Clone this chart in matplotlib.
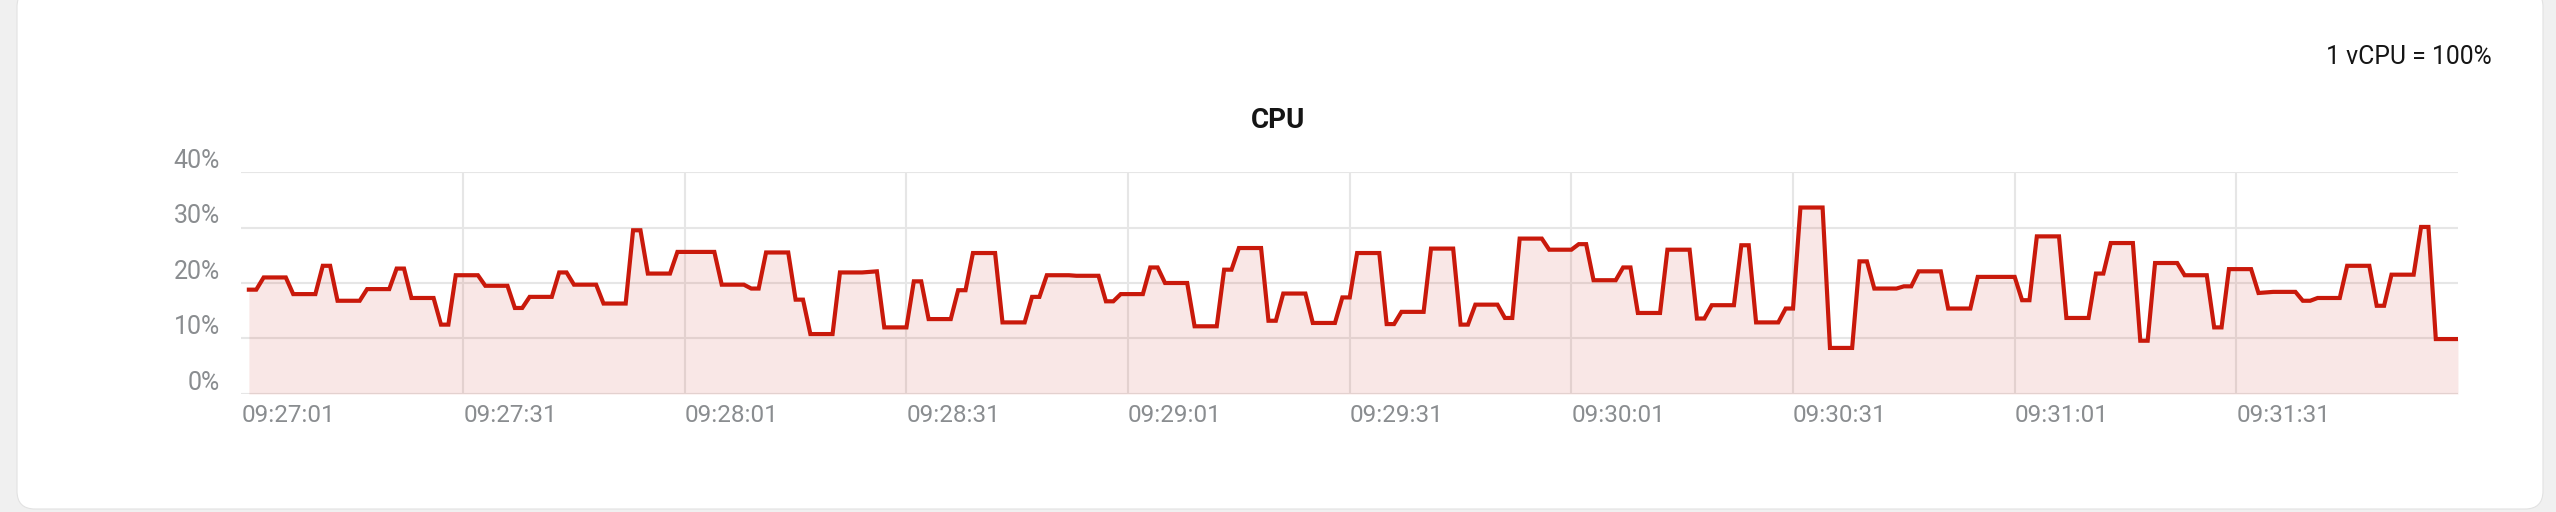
import numpy as np
import matplotlib
matplotlib.use("Agg")
import matplotlib.pyplot as plt
from matplotlib.patches import FancyBboxPatch

plt.rcParams['font.family'] = ['Roboto', 'DejaVu Sans']

# CPU usage (%), one sample per second starting 09:27:02
cpu_pct = [
    18.8, 18.8, 21.0, 21.0, 21.0, 21.0, 18.0, 18.0, 18.0, 18.0,
    23.1, 23.1, 16.8, 16.8, 16.8, 16.8, 18.9, 18.9, 18.9, 18.9,
    22.6, 22.6, 17.3, 17.3, 17.3, 17.3, 12.5, 12.5, 21.4, 21.4,
    21.4, 21.4, 19.5, 19.5, 19.5, 19.5, 15.5, 15.5, 17.5, 17.5,
    17.5, 17.5, 21.9, 21.9, 19.7, 19.7, 19.7, 19.7, 16.3, 16.3,
    16.3, 16.3, 29.5, 29.5, 21.7, 21.7, 21.7, 21.7, 25.6, 25.6,
    25.6, 25.6, 25.6, 25.6, 19.7, 19.7, 19.7, 19.7, 19.0, 19.0,
    25.5, 25.5, 25.5, 25.5, 17.0, 17.0, 10.8, 10.8, 10.8, 10.8,
    21.9, 21.9, 21.9, 21.9, 22.0, 22.1, 12.0, 12.0, 12.0, 12.0,
    20.3, 20.3, 13.5, 13.5, 13.5, 13.5, 18.7, 18.7, 25.4, 25.4,
    25.4, 25.4, 12.9, 12.9, 12.9, 12.9, 17.5, 17.5, 21.4, 21.4,
    21.4, 21.4, 21.3, 21.3, 21.3, 21.3, 16.7, 16.7, 18.0, 18.0,
    18.0, 18.0, 22.8, 22.8, 20.0, 20.0, 20.0, 20.0, 12.2, 12.2,
    12.2, 12.2, 22.4, 22.4, 26.3, 26.3, 26.3, 26.3, 13.2, 13.2,
    18.1, 18.1, 18.1, 18.1, 12.8, 12.8, 12.8, 12.8, 17.4, 17.4,
    25.4, 25.4, 25.4, 25.4, 12.6, 12.6, 14.8, 14.8, 14.8, 14.8,
    26.2, 26.2, 26.2, 26.2, 12.5, 12.5, 16.1, 16.1, 16.1, 16.1,
    13.7, 13.7, 28.0, 28.0, 28.0, 28.0, 26.0, 26.0, 26.0, 26.0,
    27.0, 27.0, 20.5, 20.5, 20.5, 20.5, 22.8, 22.8, 14.6, 14.6,
    14.6, 14.6, 26.0, 26.0, 26.0, 26.0, 13.6, 13.6, 16.0, 16.0,
    16.0, 16.0, 26.8, 26.8, 12.9, 12.9, 12.9, 12.9, 15.4, 15.4,
    33.6, 33.6, 33.6, 33.6, 8.3, 8.3, 8.3, 8.3, 23.9, 23.9,
    19.0, 19.0, 19.0, 19.0, 19.4, 19.4, 22.1, 22.1, 22.1, 22.1,
    15.4, 15.4, 15.4, 15.4, 21.1, 21.1, 21.1, 21.1, 21.1, 21.1,
    16.9, 16.9, 28.4, 28.4, 28.4, 28.4, 13.7, 13.7, 13.7, 13.7,
    21.7, 21.7, 27.2, 27.2, 27.2, 27.2, 9.6, 9.6, 23.6, 23.6,
    23.6, 23.6, 21.4, 21.4, 21.4, 21.4, 12.0, 12.0, 22.5, 22.5,
    22.5, 22.5, 18.2, 18.3, 18.4, 18.4, 18.4, 18.4, 16.8, 16.8,
    17.3, 17.3, 17.3, 17.3, 23.1, 23.1, 23.1, 23.1, 15.9, 15.9,
    21.5, 21.5, 21.5, 21.5, 30.1, 30.1, 9.9, 9.9, 9.9, 9.9,
]
# seconds after 09:27:01
seconds = np.arange(1, len(cpu_pct) + 1)

x_ticks = [0, 30, 60, 90, 120, 150, 180, 210, 240, 270]
x_labels = ["09:27:01", "09:27:31", "09:28:01", "09:28:31", "09:29:01",
            "09:29:31", "09:30:01", "09:30:31", "09:31:01", "09:31:31"]
y_ticks = [0, 10, 20, 30, 40]
y_labels = ["0%", "10%", "20%", "30%", "40%"]

RED = "#c9190b"
GRID = "#e6e6e6"
LABEL = "#8a8d90"

fig = plt.figure(figsize=(25.56, 5.12), dpi=100, facecolor="#f0f0f0")

# white card behind everything
card = FancyBboxPatch((0.17, 0.03), 25.26, 5.2,
                      boxstyle="round,pad=0,rounding_size=0.18",
                      transform=fig.dpi_scale_trans, facecolor="white",
                      edgecolor="#e2e2e2", linewidth=0.8, zorder=-10)
fig.patches.append(card)

ax = fig.add_axes([0.09448, 0.23047, 0.86717, 0.43359], zorder=5)
ax.set_facecolor("none")
ax.set_xlim(0, 300)
ax.set_ylim(0, 40)

for y in y_ticks:
    ax.axhline(y, color=GRID, lw=1.5, zorder=1)
for x in x_ticks[1:]:
    ax.axvline(x, color=GRID, lw=1.5, zorder=1)

ax.fill_between(seconds, cpu_pct, 0, color=RED, alpha=0.1, lw=0, zorder=2)
ax.plot(seconds, cpu_pct, color=RED, lw=3.0, solid_joinstyle="miter", zorder=3)

for s in ax.spines.values():
    s.set_visible(False)

ax.set_yticks([])
for y, lbl in zip(y_ticks, y_labels):
    ax.annotate(lbl, xy=(0, y), xycoords=ax.get_yaxis_transform(),
                xytext=(-15.5, 3), textcoords="offset points",
                ha="right", va="baseline", fontsize=18, color=LABEL)

ax.set_xticks(x_ticks)
ax.set_xticklabels(x_labels, fontsize=17.5, color=LABEL)
for t in ax.get_xticklabels():
    t.set_horizontalalignment("left")
ax.tick_params(axis="x", length=0, pad=7)

fig.text(0.5, 0.75, "CPU", ha="center", va="baseline", fontsize=20,
         fontweight="bold", color="#151515")
fig.text(0.9748, 0.875, "1 vCPU = 100%", ha="right", va="baseline",
         fontsize=17.8, color="#151515")

fig.savefig("out.png", dpi=100, facecolor=fig.get_facecolor())
